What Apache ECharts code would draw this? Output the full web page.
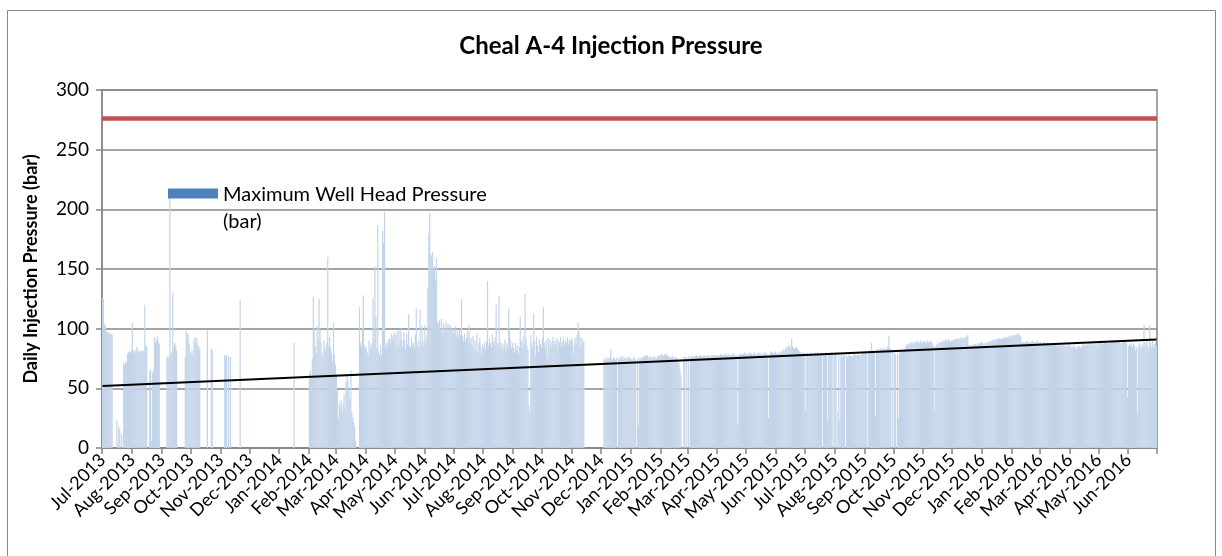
<!DOCTYPE html>
<html>
<head>
<meta charset="utf-8">
<script src="https://cdn.jsdelivr.net/npm/echarts@6/dist/echarts.min.js"></script>
<style>
html,body{margin:0;padding:0;background:#fff;}
#chart{width:1222px;height:556px;}
</style>
</head>
<body>
<div id="chart"></div>
<script>
// Month tick labels
const monthLabels = ['Jul-2013','Aug-2013','Sep-2013','Oct-2013','Nov-2013','Dec-2013','Jan-2014','Feb-2014','Mar-2014','Apr-2014','May-2014','Jun-2014','Jul-2014','Aug-2014','Sep-2014','Oct-2014','Nov-2014','Dec-2014','Jan-2015','Feb-2015','Mar-2015','Apr-2015','May-2015','Jun-2015','Jul-2015','Aug-2015','Sep-2015','Oct-2015','Nov-2015','Dec-2015','Jan-2016','Feb-2016','Mar-2016','Apr-2016','May-2016','Jun-2016'];

// Daily maximum well head pressure (bar), one array per month
const jul13 = [126,125,104,103,98,97,96,97,95,96,95,0,0,0,0,23,0,18,15,0,11,0,71,70,72,71,79,80,81,80,82];
const aug13 = [105,81,82,80,83,85,81,80,82,81,80,82,81,120,86,85,0,0,64,66,6,63,65,93,88,90,94,89,87,0,0];
const sep13 = [0,0,0,0,0,76,77,75,210,78,80,130,84,88,86,82,0,0,0,0,0,0,0,0,76,98,96,95,88,79];
const oct13 = [80,82,78,90,93,88,92,86,85,83,0,0,0,0,0,0,0,99,0,0,0,83,82,0,0,0,0,0,0,0,0];
const nov13 = [0,0,0,0,78,76,78,0,77,0,76,0,0,0,0,0,0,0,0,0,124,0,0,0,0,0,0,0,0,0];
const dec13 = [0,0,0,0,0,0,0,0,0,0,0,0,0,0,0,0,0,0,0,0,0,0,0,0,0,0,0,0,0,0,0];
const jan14 = [0,0,0,0,0,0,0,0,0,0,0,0,0,0,0,88,0,0,0,0,0,0,0,0,0,0,0,0,0,0,0];
const feb14 = [62,65,60,75,127,100,85,80,102,90,125,100,88,80,76,90,85,81,88,160,85,93,84,80,72,105,78,70];
const mar14 = [62,48,25,38,34,40,30,37,45,33,55,62,57,48,40,65,30,26,22,18,6,0,0,0,118,88,85,100,128,86,84];
const apr14 = [85,80,77,90,84,86,88,126,92,152,110,84,187,80,78,86,77,182,172,198,84,88,86,90,92,88,96,94,90,97];
const may14 = [95,86,98,84,99,88,100,91,85,97,90,83,96,87,112,85,84,92,86,88,84,95,117,86,90,84,116,88,102,86,90];
const jun14 = [103,88,95,134,180,197,163,160,164,150,152,140,159,106,104,107,100,108,96,105,102,98,106,100,104,97,103,99,101,96];
const jul14 = [100,96,102,94,98,93,99,95,125,94,90,96,89,92,98,91,103,88,92,86,94,83,90,82,96,80,88,92,85,79,87];
const aug14 = [84,88,82,90,140,86,92,88,84,95,90,86,93,120,88,85,127,90,84,88,82,86,91,83,88,85,117,98,90,84,88];
const sep14 = [84,80,88,82,86,79,85,110,90,84,94,88,129,92,86,82,36,29,95,88,84,113,90,78,93,86,80,91,87,84];
const oct14 = [92,118,88,84,90,75,93,86,91,84,89,93,86,90,87,92,84,90,88,93,85,89,92,86,90,88,93,87,91,89,92];
const nov14 = [90,79,86,92,88,95,105,98,93,85,92,88,90,0,0,0,0,0,0,0,0,0,0,0,0,0,0,0,0,0];
const dec14 = [0,0,0,74,75,73,76,74,75,76,83,75,74,76,75,74,76,0,75,74,76,75,77,74,76,75,74,76,75,77,75];
const jan15 = [74,75,74,76,75,74,0,75,19,75,74,76,75,77,76,78,77,78,76,75,77,76,75,76,77,76,75,76,77,78,77];
const feb15 = [78,79,78,77,78,79,77,78,76,77,75,76,77,75,76,75,76,75,74,71,66,60,0,0,76,77,0,76];
const mar15 = [0,77,0,76,77,76,77,76,77,78,77,76,77,78,77,76,77,78,77,76,78,77,78,77,76,78,77,78,77,78,77];
const apr15 = [77,78,77,78,79,78,77,78,79,78,78,79,78,77,78,79,78,79,78,77,78,19,78,79,78,79,78,79,80,79];
const may15 = [78,79,78,79,80,79,78,79,80,79,78,79,80,79,80,79,78,79,80,79,80,79,78,25,79,80,81,80,79,80,81];
const jun15 = [79,80,79,80,81,80,81,82,83,82,84,85,84,86,85,84,92,85,84,83,84,85,83,82,81,80,79,80,79,80];
const jul15 = [31,79,80,79,78,79,80,79,78,79,80,78,79,80,79,78,79,80,0,79,78,79,80,23,79,78,79,80,78,0,79];
const aug15 = [78,79,0,31,78,23,77,78,76,77,78,0,77,76,78,77,78,77,76,78,79,78,77,78,79,78,77,78,79,80,79];
const sep15 = [80,81,79,0,80,82,81,88,82,80,81,27,82,83,82,81,83,84,82,83,84,82,83,84,85,94,84,83,0,82];
const oct15 = [0,80,78,0,79,25,80,81,80,82,81,82,84,86,87,86,88,87,88,89,87,88,89,88,90,89,88,89,90,88,89];
const nov15 = [89,90,88,89,90,88,89,90,89,88,86,32,85,86,87,88,87,89,88,89,90,89,90,91,89,90,91,90,89,90];
const dec15 = [90,91,90,91,92,91,92,91,92,93,92,91,92,93,92,94,95,86,85,86,85,86,87,86,87,86,87,88,87,88,89];
const jan16 = [88,87,88,87,88,89,88,89,90,89,90,91,90,91,90,91,92,91,92,91,92,91,92,93,92,93,92,93,94,93,94];
const feb16 = [95,94,95,94,95,96,95,96,95,94,89,88,89,88,89,90,89,88,89,88,89,90,89,88,89,88,90,89,88];
const mar16 = [88,89,87,88,89,88,87,88,89,88,87,86,87,88,87,86,87,86,85,86,87,86,85,86,87,86,85,86,85,86,87];
const apr16 = [85,86,84,85,86,84,85,83,84,86,85,84,85,86,87,85,86,87,86,88,87,86,88,87,86,87,88,87,86,88];
const may16 = [87,88,89,88,87,88,89,88,89,88,87,89,88,89,90,89,88,89,90,89,88,89,88,87,88,89,88,89,90,88,42];
const jun16 = [85,87,86,88,84,87,86,82,85,29,84,88,86,83,87,85,103,88,84,90,86,83,103,88,85,90,84,87,89,86];

// Maximum allowable pressure (red) and linear trend end values (black)
const limitPressure = 276;
const trendStart = 52;
const trendEnd = 91;

const months = [jul13,aug13,sep13,oct13,nov13,dec13,jan14,feb14,mar14,apr14,may14,jun14,
  jul14,aug14,sep14,oct14,nov14,dec14,jan15,feb15,mar15,apr15,may15,jun15,
  jul15,aug15,sep15,oct15,nov15,dec15,jan16,feb16,mar16,apr16,may16,jun16];

const categories = [];
const values = [];
months.forEach((arr, i) => {
  arr.forEach((v, j) => {
    categories.push(monthLabels[i] + '|' + (j + 1));
    values.push(v);
  });
});
const isMonthStart = (idx, val) => /\|1$/.test(val);

const FONT = 'Lato';
const GRID_COLOR = '#878787';

const chart = echarts.init(document.getElementById('chart'), null, {renderer: 'canvas'});
chart.setOption({
  animation: false,
  backgroundColor: '#fff',
  textStyle: {fontFamily: FONT},
  title: {
    text: 'Cheal A-4 Injection Pressure',
    left: 'center',
    top: 29,
    textStyle: {fontFamily: FONT, fontSize: 24, fontWeight: 'bold', color: '#000'}
  },
  graphic: [{
    type: 'rect',
    shape: {x: 7.5, y: 10.5, width: 1208, height: 560},
    style: {fill: 'none', stroke: '#898989', lineWidth: 1},
    silent: true,
    z: -10
  }],
  legend: {
    left: 163,
    top: 176,
    selectedMode: false,
    itemWidth: 50,
    itemHeight: 39,
    formatter: 'Maximum Well Head Pressure\n(bar)',
    textStyle: {fontFamily: FONT, fontSize: 20, lineHeight: 27, color: '#000'},
    data: [{
      name: 'Maximum Well Head Pressure (bar)',
      icon: 'path://M0,0H50V10H0Z M0,38.99H0.01V39H0Z',
      itemStyle: {color: '#4f81bd', borderWidth: 0, opacity: 1}
    }]
  },
  grid: {
    left: 102, right: 65, top: 90, bottom: 108,
    show: true, borderColor: GRID_COLOR, borderWidth: 1.5, backgroundColor: 'transparent'
  },
  xAxis: {
    type: 'category',
    data: categories,
    boundaryGap: true,
    axisLine: {show: true, lineStyle: {color: GRID_COLOR, width: 1.5}},
    axisTick: {show: true, interval: isMonthStart, length: 6, lineStyle: {color: GRID_COLOR, width: 1.5}},
    axisLabel: {
      interval: isMonthStart,
      rotate: 45,
      margin: 9,
      fontFamily: FONT,
      fontSize: 18,
      color: '#000',
      formatter: (val) => val.split('|')[0]
    },
    splitLine: {show: false}
  },
  yAxis: {
    type: 'value',
    min: 0, max: 300, interval: 50,
    name: 'Daily Injection Pressure (bar)',
    nameLocation: 'middle',
    nameGap: 62,
    nameTextStyle: {fontFamily: FONT, fontSize: 18, fontWeight: 'bold', color: '#000'},
    axisLine: {show: true, lineStyle: {color: GRID_COLOR, width: 1.5}},
    axisTick: {show: true, length: 6, lineStyle: {color: GRID_COLOR, width: 1.5}},
    axisLabel: {fontFamily: FONT, fontSize: 19, color: '#000', margin: 13},
    splitLine: {show: true, lineStyle: {color: GRID_COLOR, width: 1.5}}
  },
  series: [{
    name: 'Maximum Well Head Pressure (bar)',
    type: 'bar',
    data: values,
    barWidth: 1.2,
    itemStyle: {color: '#c3d4e9'},
    emphasis: {disabled: true},
    markLine: {
      silent: true,
      symbol: 'none',
      label: {show: false},
      lineStyle: {color: '#c0504d', width: 4.5, type: 'solid'},
      data: [{yAxis: limitPressure}]
    },
    z: 2
  }, {
    name: 'Linear trend',
    type: 'line',
    data: [[categories[0], trendStart], [categories[categories.length - 1], trendEnd]],
    symbol: 'none',
    lineStyle: {color: '#000', width: 2},
    silent: true,
    z: 5
  }]
});
</script>
</body>
</html>
